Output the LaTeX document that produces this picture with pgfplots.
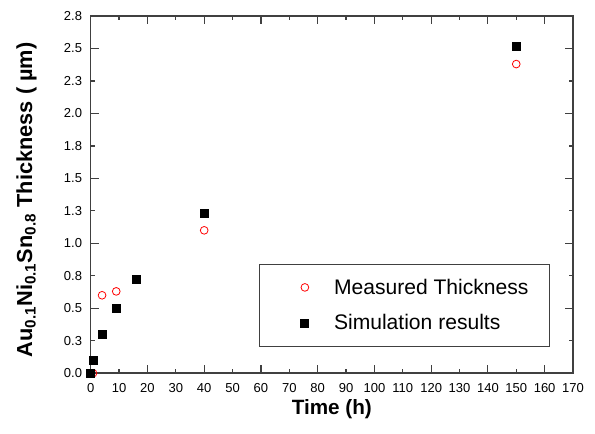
\documentclass[border=0pt]{standalone}
\usepackage{pgfplots}
\pgfplotsset{compat=1.18}
\usepackage{fontspec}
\setmainfont{Liberation Sans}

\pgfplotsset{
    myleg/.style={legend image code/.code={
        \draw[##1] plot coordinates {(19.5pt,0pt)};
        \path (0pt,0pt) (39pt,0pt);}},
}

\begin{document}
\begin{tikzpicture}
\begin{axis}[
    scale only axis,
    width=361.5pt,
    height=267.75pt,
    xmin=0, xmax=170,
    ymin=0, ymax=2.75,
    clip=false,
    axis line style={black!75, line width=1.1pt},
    tick style={black!75, line width=0.9pt},
    tick align=inside,
    major tick length=6pt,
    xtick={0,20,...,160},
    extra x ticks={10,30,...,170},
    extra x tick style={major tick length=3pt},
    ytick={0,0.5,...,2.5},
    yticklabels={0.0,0.5,1.0,1.5,2.0,2.5},
    extra y ticks={0.25,0.75,1.25,1.75,2.25,2.75},
    extra y tick labels={0.3,0.8,1.3,1.8,2.3,2.8},
    extra y tick style={major tick length=3pt},
    /pgf/number format/assume math mode=true,
    ticklabel style={font=\fontsize{9.75}{11}\selectfont},
    xticklabel style={yshift=-4pt},
    yticklabel style={xshift=-3pt},
    xlabel={\textbf{Time (h)}},
    ylabel={\textbf{Au\textsubscript{0.1}Ni\textsubscript{0.1}Sn\textsubscript{0.8} Thickness ( µm)}},
    label style={font=\fontsize{15.5}{18}\selectfont},
    xlabel style={at={(axis description cs:0.5,-0.1)}, anchor=center},
    ylabel style={at={(axis description cs:-0.133,0.485)}, anchor=center,
        font=\fontsize{16.3}{18}\selectfont},
    legend style={at={(rel axis cs:0.953,0.073)}, anchor=south east,
        draw=black!75, line width=0.7pt,
        font=\fontsize{15.8}{18}\selectfont,
        inner xsep=14pt, inner ysep=9pt, row sep=10pt},
    legend cell align=left,
]
\addplot[only marks, mark=o, mark size=2.9pt, color=red, mark options={line width=0.6pt}, myleg] coordinates {
    (0.8,0) (4,0.6) (9,0.63) (40,1.10) (150,2.38)
};
\addplot[only marks, mark=square*, mark size=3pt, color=black, myleg] coordinates {
    (0,0) (1,0.1) (4,0.3) (9,0.5) (16,0.72) (40,1.23) (150,2.52)
};
\legend{Measured Thickness, Simulation results}
\end{axis}
\path (current axis.south west) ++(-68pt,-45pt) coordinate (bbA);
\path (current axis.north east) ++(16.5pt,12pt) coordinate (bbB);
\path (bbA) (bbB);
\end{tikzpicture}
\end{document}
